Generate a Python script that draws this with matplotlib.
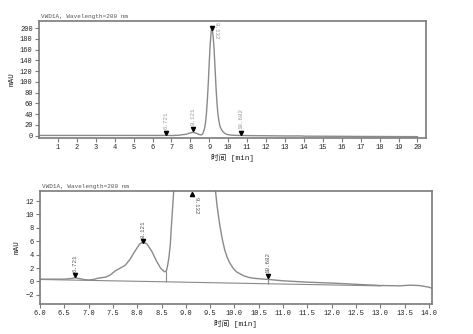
"""
Recreate the VWD1A (200 nm) chromatogram: full run on top, zoomed view below.
"""

import matplotlib
matplotlib.use("Agg")
import matplotlib.pyplot as plt

OUT_PATH = "out.png"
FONT = ["Liberation Mono", "Noto Sans CJK SC", "DejaVu Sans"]

# signal (min, mAU)
time_min = [0, 1, 2, 3, 4, 5, 6.0, 6.5, 6.65, 6.72, 6.8, 6.9, 7.0, 7.1, 7.2,
            7.35, 7.45, 7.55, 7.65, 7.75, 7.85, 7.95, 8.05, 8.12, 8.2, 8.3,
            8.4, 8.48, 8.56, 8.6, 8.62, 8.65, 8.68, 8.7, 8.75, 8.8, 8.85, 8.9,
            8.95, 9.0, 9.05, 9.1, 9.13, 9.16, 9.2, 9.25, 9.3, 9.35, 9.4, 9.45,
            9.5, 9.55, 9.58, 9.61, 9.64, 9.68, 9.71, 9.75, 9.8, 9.85, 9.9,
            9.98, 10.05, 10.19, 10.3, 10.4, 10.6, 10.68, 11.0, 11.5, 12.04,
            12.72, 13.0, 13.2, 13.4, 13.6, 13.8, 14.0, 14.06, 15, 16, 17, 18,
            19, 20]
signal_mau = [0.4, 0.4, 0.4, 0.4, 0.4, 0.4, 0.35, 0.35, 0.45, 0.55, 0.45, 0.3,
              0.22, 0.3, 0.5, 0.65, 1.0, 1.6, 2.0, 2.4, 3.3, 4.5, 5.6, 5.9,
              5.6, 4.5, 3.0, 2.0, 1.45, 1.6, 2.2, 3.5, 5.5, 8.0, 13.5, 24, 42,
              68, 100, 138, 172, 194, 200, 197, 185, 162, 128, 93, 63, 42,
              28.5, 19.5, 16, 13.5, 11.4, 9.3, 7.9, 6.3, 4.7, 3.6, 2.8, 1.9,
              1.4, 0.85, 0.6, 0.48, 0.35, 0.32, 0.1, -0.1, -0.25, -0.5, -0.6,
              -0.62, -0.65, -0.55, -0.6, -0.85, -1.0, -1.1, -1.3, -1.5, -1.6,
              -1.8, -1.9]

# integration baseline (zoomed panel)
base_t = [6.0, 8.6, 10.68, 13.0]
base_y = [0.3, -0.05, -0.34, -0.65]

# peak labels
peak_t = [6.721, 8.121, 9.132, 10.682]
peak_lbl = ["6.721", "8.121", "9.132", "10.682"]
top_mark_y = [5.6, 12, 200, 5.6]
bot_mark_y = [1.0, 6.1, 13.0, 0.8]

TITLE = "VWD1A, Wavelength=200 nm"
XLABEL = "时间 [min]"
YLABEL = "mAU"

LINE = "#8a8a8a"
SPINE = "#7a7a7a"
TXT = "#222222"
LBL = "#9a9a9a"


def style_axes(ax):
    for s in ax.spines.values():
        s.set_color(SPINE)
        s.set_linewidth(1.2)
    ax.tick_params(direction="out", length=3, width=0.8, color=SPINE,
                   labelsize=5, labelcolor=TXT, pad=1.5)
    for lab in ax.get_xticklabels() + ax.get_yticklabels():
        lab.set_family(FONT)
    ax.set_xlabel(XLABEL, fontsize=5.5, family=FONT, color=TXT, labelpad=2)
    ax.set_ylabel(YLABEL, fontsize=5.5, family=FONT, color=TXT, labelpad=3)
    ax.text(0.005, 1.02, TITLE, transform=ax.transAxes, fontsize=4.3,
            family=FONT, color="#555555", va="bottom", ha="left")


def main():
    fig = plt.figure(figsize=(4.73, 3.34), dpi=100)
    fig.patch.set_facecolor("white")

    # ---- full run ----
    ax1 = fig.add_axes([0.0825, 0.587, 0.818, 0.350])
    ax1.plot(time_min, signal_mau, color=LINE, lw=1.0)
    ax1.set_xlim(0, 20.45)
    ax1.set_ylim(-4.3, 213)
    ax1.set_xticks(range(1, 21))
    ax1.set_yticks(range(0, 201, 20))
    for t, lbl, my in zip(peak_t, peak_lbl, top_mark_y):
        ax1.plot(t, my, marker="v", color="black", ms=3, zorder=5)
        if lbl == "9.132":
            ax1.text(t + 0.22, 211, lbl, rotation=270, fontsize=4.2,
                     family=FONT, color=LBL, ha="center", va="top")
        else:
            ax1.text(t, my + 7, lbl, rotation=90, fontsize=4.2,
                     family=FONT, color=LBL, ha="center", va="bottom")
    style_axes(ax1)

    # ---- zoomed view ----
    ax2 = fig.add_axes([0.0846, 0.090, 0.8284, 0.338])
    ax2.plot(time_min, signal_mau, color=LINE, lw=1.0)
    ax2.plot(base_t, base_y, color=LINE, lw=0.8)
    ax2.vlines([8.6, 10.68], [base_y[1], base_y[2]], [1.5, 0.8],
               color=LINE, lw=0.8)
    ax2.set_xlim(6.0, 14.06)
    ax2.set_ylim(-3.35, 13.5)
    ax2.set_xticks([6 + 0.5 * i for i in range(17)])
    ax2.set_xticklabels([f"{6 + 0.5 * i:.1f}" for i in range(17)])
    ax2.set_yticks(range(-2, 13, 2))
    for t, lbl, my in zip(peak_t, peak_lbl, bot_mark_y):
        if lbl == "9.132":
            ax2.plot(t, my, marker="^", color="black", ms=3, zorder=5,
                     clip_on=False)
            ax2.text(t + 0.07, my - 0.4, lbl, rotation=270, fontsize=4.2,
                     family=FONT, color="#555555", ha="center", va="top")
        else:
            ax2.plot(t, my, marker="v", color="black", ms=3, zorder=5)
            ax2.text(t, my + 0.45, lbl, rotation=90, fontsize=4.2,
                     family=FONT, color="#555555", ha="center", va="bottom")
    style_axes(ax2)

    fig.savefig(OUT_PATH, dpi=100)


if __name__ == "__main__":
    main()
